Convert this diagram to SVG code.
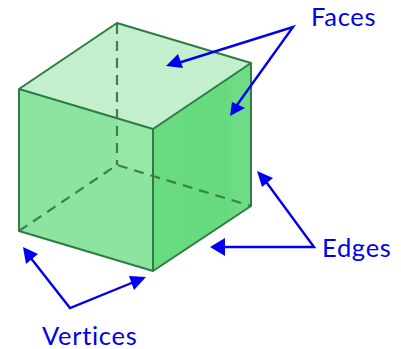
<svg xmlns="http://www.w3.org/2000/svg" width="401" height="349" viewBox="0 0 401 349">
<defs>
<linearGradient id="rf" x1="0" y1="0" x2="1" y2="0"><stop offset="0" stop-color="#69dc80"/><stop offset="0.75" stop-color="#67da7e"/><stop offset="0.85" stop-color="#6edc84"/><stop offset="1" stop-color="#6edc84"/></linearGradient>
</defs>
<style>
.e{fill:none;stroke:#2f7a45;stroke-width:2;stroke-linejoin:round}
.d{fill:none;stroke:#3d8050;stroke-width:2.2;stroke-dasharray:10 7}
.a{fill:none;stroke:#0000f0;stroke-width:2.4;stroke-linejoin:miter}
.h{fill:#0000f0}
text{font-family:"Lato","Liberation Sans",sans-serif;font-size:25.5px;letter-spacing:0.7px;font-variant-ligatures:none;fill:#0000f0}
</style>
<rect width="401" height="349" fill="#fff"/>
<g id="cube">
<polygon points="19,89 117,23 251,63 153,129" fill="#c4efcd"/>
<polygon points="19,89 153,129 153,271 19,231" fill="#8de4a0"/>
<polygon points="153,129 251,63 251,206 153,271" fill="url(#rf)"/>
<polygon points="117,118 153,129 153,177 117,165" fill="#a4e8b3" opacity="0.4"/>
<path class="d" d="M117,24V165"/>
<path class="d" d="M19,231L117,165L251,206"/>
<path class="e" d="M19,89L117,23L251,63L153,129L19,89V231L153,271L251,206V63M153,129V271"/>
</g>
<g id="connectors">
<path class="a" d="M175,64L293,27L237,105"/>
<path class="a" d="M264,179L314,247H222"/>
<path class="a" d="M30,257L70,308L134,282"/>
<polygon class="h" points="166,66 178,54 183,68"/>
<polygon class="h" points="230,116 232,102 245,108"/>
<polygon class="h" points="257,171 273,178 262,187"/>
<polygon class="h" points="210,247 225,238 225,256"/>
<polygon class="h" points="23,247 38,254 26,264"/>
<polygon class="h" points="146,277 129,276 134,290"/>
</g>
<g id="label-faces"><text x="311" y="26">Faces</text></g>
<g id="label-edges"><text x="322" y="257">Edges</text></g>
<g id="label-vertices"><text x="42" y="345">Vertices</text></g>
</svg>
